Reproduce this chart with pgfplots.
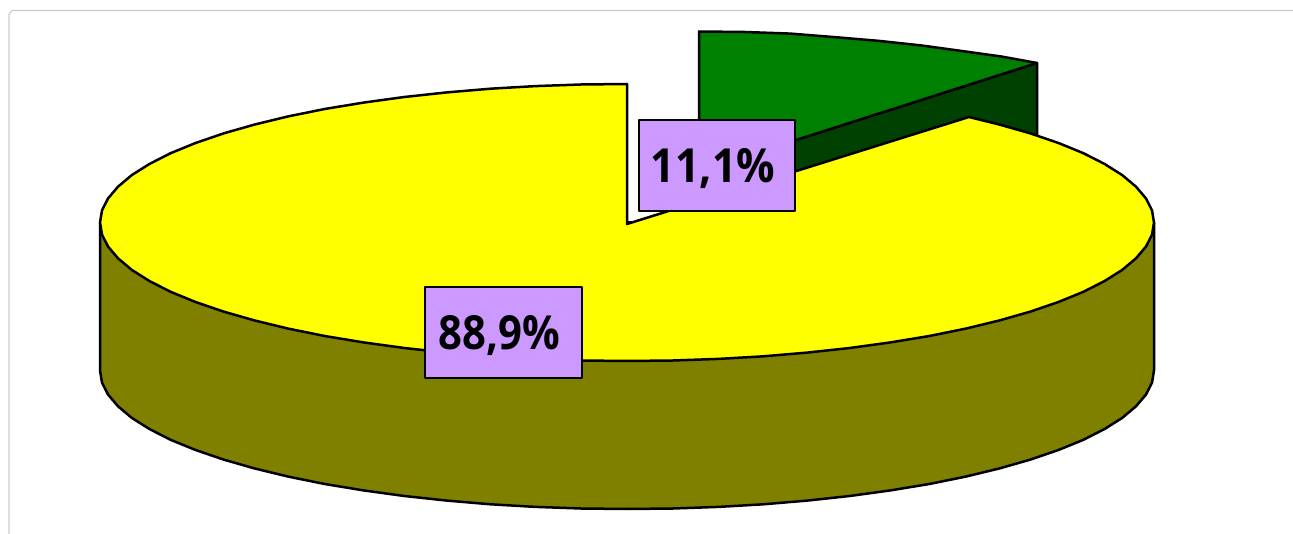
\documentclass[border=0pt]{standalone}
\usepackage{fontspec}
\usepackage{graphicx}
\usepackage{pgfplots}
\pgfplotsset{compat=1.18}
\setmainfont{Open Sans}
\definecolor{sideolive}{HTML}{808000}
\definecolor{topyellow}{HTML}{FFFF00}
\definecolor{topgreen}{HTML}{008000}
\definecolor{sidegreen}{HTML}{004000}
\definecolor{labelbg}{HTML}{CC99FF}
\definecolor{framegrey}{HTML}{CCCCCC}
\begin{document}
\begin{tikzpicture}
\begin{axis}[
  width=1293pt, height=534pt, scale only axis, hide axis,
  xmin=0, xmax=1293, ymin=0, ymax=534, y dir=reverse,
  clip=true,
  every axis plot/.append style={no markers, line join=round, line width=2.5pt, draw=black}
]
% page background and frame
\addplot[fill=white, draw=none] coordinates {(0,0) (1293,0) (1293,534) (0,534)} -- cycle;
\addplot[draw=framegrey, line width=1.2pt] coordinates {(9,534) (9,14) (12,10.5) (1293,10.5)};
% pulled-out slice, cut face
\addplot[fill=sidegreen] coordinates {(699,171) (1037,63) (1037,211) (699,319)} -- cycle;
% pulled-out slice, top
\addplot[fill=topgreen] coordinates {(699,171) (699,31.5) (745,32) (790.5,33.6) (835.4,37.2) (879.2,40.9) (921.7,45.5) (962.5,51.1) (1001.3,56.5) (1037,63)} -- cycle;
% main slice, rim
\addplot[fill=sideolive] coordinates {
 (100,222.5) (100,370.5) (102,382.6) (108,394.5) (118,406.3) (131.8,417.9) (149.4,429) (170.6,439.8) (195.3,449.9) (223.3,459.5) (254.4,468.4) (288.2,476.6) (324.7,484) (363.5,490.4) (404.3,496) (446.8,500.6) (490.6,504.3) (535.5,506.9) (581,508.5) (627,509)
 (673,508.5) (718.5,506.9) (763.4,504.3) (807.2,500.6) (849.7,496) (890.5,490.4) (929.3,484) (965.8,476.6) (999.6,468.4) (1030.7,459.5) (1058.7,449.9) (1083.4,439.8) (1104.6,429) (1122.2,417.9) (1136,406.3) (1146,394.5) (1152,382.6) (1154,370.5) (1154,222.5)} -- cycle;
% main slice, top
\addplot[fill=topyellow] coordinates {
 (627,224) (627,84) (581,84.5) (535.5,86.1) (490.6,88.7) (446.8,92.4) (404.3,97) (363.5,102.6) (324.7,109) (288.2,116.4) (254.4,124.6) (223.3,133.5) (195.3,143.1) (170.6,153.2) (149.4,164) (131.8,175.1) (118,186.7) (108,198.5) (102,210.4) (100,222.5)
 (102,234.6) (108,246.5) (118,258.3) (131.8,269.9) (149.4,281) (170.6,291.8) (195.3,301.9) (223.3,311.5) (254.4,320.4) (288.2,328.6) (324.7,336) (363.5,342.4) (404.3,348) (446.8,352.6) (490.6,356.3) (535.5,358.9) (581,360.5) (627,361)
 (673,360.5) (718.5,358.9) (763.4,356.3) (807.2,352.6) (849.7,348) (890.5,342.4) (929.3,336) (965.8,328.6) (999.6,320.4) (1030.7,311.5) (1058.7,301.9) (1083.4,291.8) (1104.6,281) (1122.2,269.9) (1136,258.3) (1146,246.5) (1152,234.6) (1154,222.5)
 (1152,210.4) (1146,198.5) (1136,186.7) (1122.2,175.1) (1104.6,164) (1083.4,153.2) (1058.7,143.1) (1030.7,133.5) (999.6,124.6) (969,117)} -- cycle;
% value labels
\addplot[fill=labelbg, line width=2pt] coordinates {(639,120) (795,120) (795,211) (639,211)} -- cycle;
\addplot[fill=labelbg, line width=2pt] coordinates {(425,287) (582,287) (582,378) (425,378)} -- cycle;
\node[inner sep=0pt, text=black] at (axis cs:713,169) {\fontsize{47}{47}\selectfont\bfseries\scalebox{0.91}[1]{11,1\%}};
\node[inner sep=0pt, text=black] at (axis cs:499.5,336) {\fontsize{47}{47}\selectfont\bfseries\scalebox{0.89}[1]{88,9\%}};
\end{axis}
\end{tikzpicture}
\end{document}
